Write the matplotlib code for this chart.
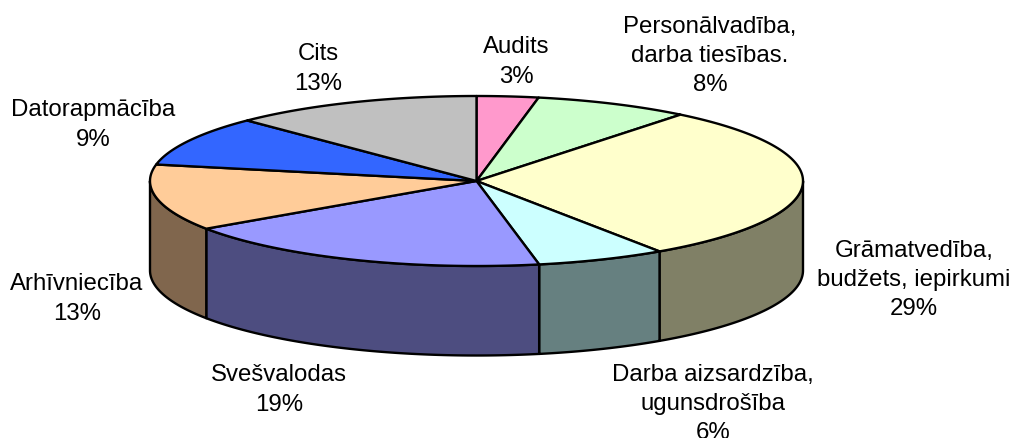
#!/usr/bin/env python3
"""3D style pie of course topics, drawn as polygons on a pixel sized axes."""
import numpy as np
import matplotlib
matplotlib.use('Agg')
import matplotlib.pyplot as plt
from matplotlib.patches import Polygon

plt.rcParams['font.family'] = ['Liberation Sans', 'DejaVu Sans']

categories = ['Audits', 'Personālvadība,\ndarba tiesības.', 'Grāmatvedība,\nbudžets, iepirkumi',
              'Darba aizsardzība,\nugunsdrošība', 'Svešvalodas', 'Arhīvniecība',
              'Datorapmācība', 'Cits']
shares = [3.05, 7.7, 29.8, 6.4, 18.6, 12.6, 9.5, 12.4]
pct_labels = ['3%', '8%', '29%', '6%', '19%', '13%', '9%', '13%']
top_colors = ['#FF99CC', '#CCFFCC', '#FFFFCC', '#CCFFFF', '#9999FF', '#FFCC99', '#3366FF', '#C0C0C0']
side_colors = ['#804D66', '#668066', '#808066', '#668080', '#4D4D80', '#80664D', '#1A3380', '#606060']
label_pos = [(516, 62), (710, 56), (914, 280), (713, 404), (279, 390), (77, 299), (93, 125), (318, 69)]

cx, cy = 476.5, 182
rx, ry = 326.5, 85
depth = 89.5


def rim(t):
    # t in radians, clockwise from the top of the ellipse
    return cx + rx * np.sin(t), cy - ry * np.cos(t)


fig = plt.figure(figsize=(10.15, 4.39), dpi=100)
ax = fig.add_axes([0, 0, 1, 1])
ax.set_xlim(0, 1015)
ax.set_ylim(439, 0)
ax.axis('off')

edges = np.cumsum([0] + shares) / sum(shares) * 2 * np.pi

# side walls, only the front half of the rim shows
for i in range(len(shares)):
    a = max(edges[i], np.pi / 2)
    b = min(edges[i + 1], 3 * np.pi / 2)
    if b <= a:
        continue
    t = np.linspace(a, b, 80)
    x, y = rim(t)
    xs = np.r_[x, x[::-1]]
    ys = np.r_[y, y[::-1] + depth]
    ax.add_patch(Polygon(np.c_[xs, ys], closed=True, fc=side_colors[i], ec='black', lw=1.7, joinstyle='round'))

# top slices
for i in range(len(shares)):
    t = np.linspace(edges[i], edges[i + 1], 120)
    x, y = rim(t)
    xs = np.r_[cx, x]
    ys = np.r_[cy, y]
    ax.add_patch(Polygon(np.c_[xs, ys], closed=True, fc=top_colors[i], ec='black', lw=1.7, joinstyle='round'))

for name, pct, (lx, ly) in zip(categories, pct_labels, label_pos):
    ax.text(lx, ly, name + '\n' + pct, ha='center', va='center', fontsize=17.3, color='black', linespacing=1.42)

plt.savefig('out.png', dpi=100)
plt.close()
